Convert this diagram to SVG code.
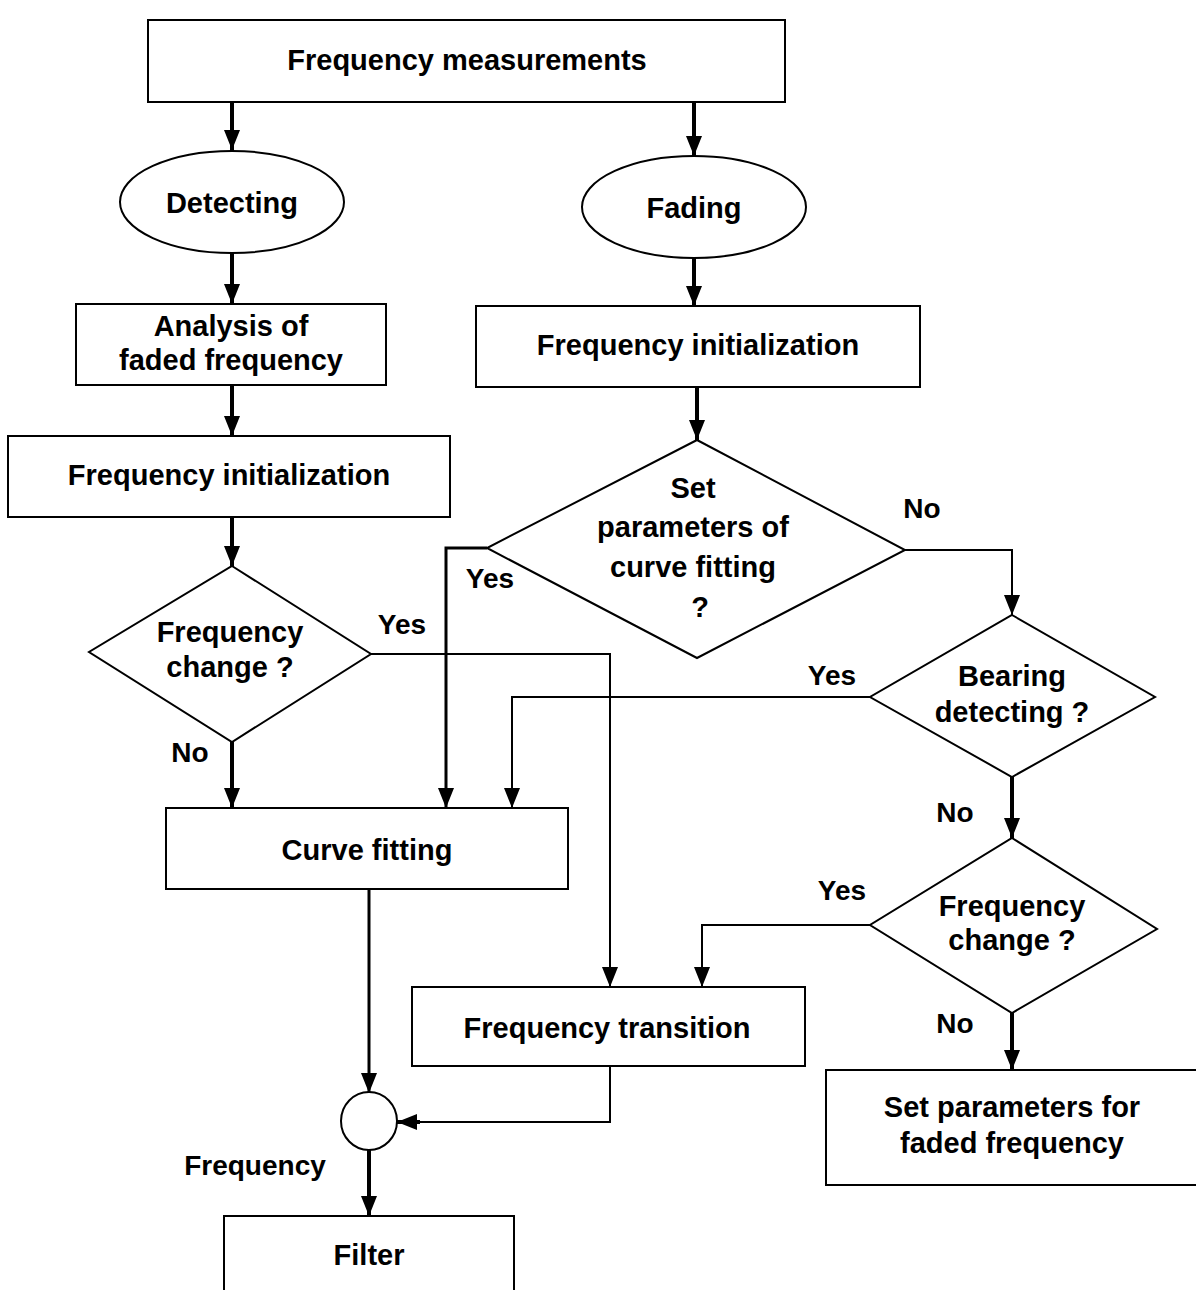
<svg xmlns="http://www.w3.org/2000/svg" width="1196" height="1290" viewBox="0 0 1196 1290">
<defs>
<style>
.box{fill:#fff;stroke:#000;stroke-width:2}
.t{font-family:"Liberation Sans",Arial,sans-serif;font-weight:bold;font-size:29px;fill:#000;text-anchor:middle}
.lbl{font-family:"Liberation Sans",Arial,sans-serif;font-weight:bold;font-size:28px;fill:#000;text-anchor:middle}
.thick{fill:none;stroke:#000;stroke-width:4}
.mid{fill:none;stroke:#000;stroke-width:3}
.thin{fill:none;stroke:#000;stroke-width:2}
</style>
<marker id="ah" viewBox="0 0 20 16" refX="20" refY="8" markerWidth="20" markerHeight="16" markerUnits="userSpaceOnUse" orient="auto">
<path d="M0,0 L20,8 L0,16 Z" fill="#000"/>
</marker>
</defs>
<rect width="1196" height="1290" fill="#fff"/>

<g id="connectors">
<line class="thick" x1="232" y1="102" x2="232" y2="150" marker-end="url(#ah)"/>
<line class="thick" x1="694" y1="102" x2="694" y2="156" marker-end="url(#ah)"/>
<line class="thick" x1="232" y1="253" x2="232" y2="304" marker-end="url(#ah)"/>
<line class="thick" x1="694" y1="258" x2="694" y2="306" marker-end="url(#ah)"/>
<line class="thick" x1="232" y1="385" x2="232" y2="436" marker-end="url(#ah)"/>
<line class="thick" x1="697" y1="387" x2="697" y2="440" marker-end="url(#ah)"/>
<line class="thick" x1="232" y1="517" x2="232" y2="566" marker-end="url(#ah)"/>
<line class="thick" x1="232" y1="742" x2="232" y2="808" marker-end="url(#ah)"/>
<polyline class="thin" points="371,654 610,654 610,987" marker-end="url(#ah)"/>
<polyline class="mid" points="487,548 446,548 446,808" marker-end="url(#ah)"/>
<polyline class="thin" points="905,550 1012,550 1012,615" marker-end="url(#ah)"/>
<polyline class="thin" points="870,697 512,697 512,808" marker-end="url(#ah)"/>
<line class="thick" x1="1012" y1="777" x2="1012" y2="838" marker-end="url(#ah)"/>
<polyline class="thin" points="870,925 702,925 702,987" marker-end="url(#ah)"/>
<line class="thick" x1="1012" y1="1013" x2="1012" y2="1070" marker-end="url(#ah)"/>
<line class="mid" x1="369" y1="889" x2="369" y2="1093" marker-end="url(#ah)"/>
<polyline class="thin" points="610,1066 610,1122 415,1122"/>
<line class="thick" x1="420" y1="1122" x2="397" y2="1122" marker-end="url(#ah)"/>
<line class="thick" x1="369" y1="1150" x2="369" y2="1216" marker-end="url(#ah)"/>
<text class="lbl" x="402" y="634">Yes</text>
<text class="lbl" x="190" y="762">No</text>
<text class="lbl" x="490" y="588">Yes</text>
<text class="lbl" x="922" y="518">No</text>
<text class="lbl" x="832" y="685">Yes</text>
<text class="lbl" x="955" y="822">No</text>
<text class="lbl" x="842" y="900">Yes</text>
<text class="lbl" x="955" y="1033">No</text>
<text class="lbl" x="255" y="1175">Frequency</text>
</g>

<g id="freq-measurements">
<rect class="box" x="148" y="20" width="637" height="82"/>
<text class="t" x="467" y="70">Frequency measurements</text>
</g>
<g id="detecting">
<ellipse class="box" cx="232" cy="202" rx="112" ry="51"/>
<text class="t" x="232" y="213">Detecting</text>
</g>
<g id="fading">
<ellipse class="box" cx="694" cy="207" rx="112" ry="51"/>
<text class="t" x="694" y="218">Fading</text>
</g>
<g id="analysis">
<rect class="box" x="76" y="304" width="310" height="81"/>
<text class="t" x="231" y="336">Analysis of</text>
<text class="t" x="231" y="370">faded frequency</text>
</g>
<g id="freq-init-left">
<rect class="box" x="8" y="436" width="442" height="81"/>
<text class="t" x="229" y="485">Frequency initialization</text>
</g>
<g id="freq-init-right">
<rect class="box" x="476" y="306" width="444" height="81"/>
<text class="t" x="698" y="355">Frequency initialization</text>
</g>
<g id="set-params-curve">
<polygon class="box" points="697,440 905,550 697,658 487,548"/>
<text class="t" x="693" y="498">Set</text>
<text class="t" x="693" y="537">parameters of</text>
<text class="t" x="693" y="577">curve fitting</text>
<text class="t" x="700" y="617">?</text>
</g>
<g id="freq-change-left">
<polygon class="box" points="232,566 371,654 232,742 89,652"/>
<text class="t" x="230" y="642">Frequency</text>
<text class="t" x="230" y="677">change ?</text>
</g>
<g id="bearing">
<polygon class="box" points="1012,615 1155,697 1012,777 870,697"/>
<text class="t" x="1012" y="686">Bearing</text>
<text class="t" x="1012" y="722">detecting ?</text>
</g>
<g id="freq-change-right">
<polygon class="box" points="1012,838 1157,929 1012,1013 870,925"/>
<text class="t" x="1012" y="916">Frequency</text>
<text class="t" x="1012" y="950">change ?</text>
</g>
<g id="curve-fitting">
<rect class="box" x="166" y="808" width="402" height="81"/>
<text class="t" x="367" y="860">Curve fitting</text>
</g>
<g id="freq-transition">
<rect class="box" x="412" y="987" width="393" height="79"/>
<text class="t" x="607" y="1038">Frequency transition</text>
</g>
<g id="set-params-faded">
<rect class="box" x="826" y="1070" width="380" height="115"/>
<text class="t" x="1012" y="1117">Set parameters for</text>
<text class="t" x="1012" y="1153">faded frequency</text>
</g>
<g id="junction">
<ellipse class="box" cx="369" cy="1121" rx="28" ry="29"/>
</g>
<g id="filter">
<rect class="box" x="224" y="1216" width="290" height="90"/>
<text class="t" x="369" y="1265">Filter</text>
</g>
</svg>
